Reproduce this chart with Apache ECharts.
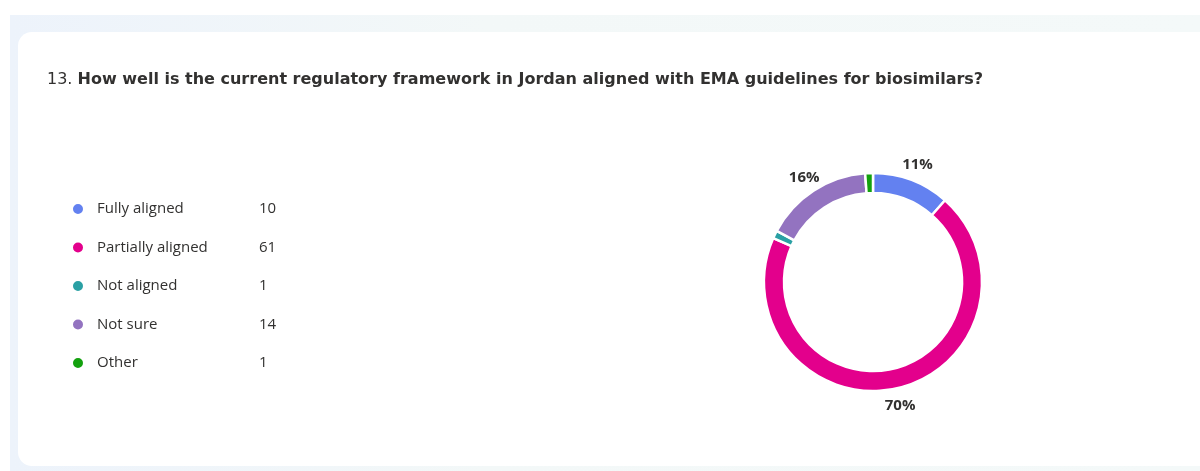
<!DOCTYPE html>
<html>
<head>
<meta charset="utf-8">
<script src="https://cdn.jsdelivr.net/npm/echarts@6/dist/echarts.min.js"></script>
<style>
  html, body { margin: 0; padding: 0; background: #ffffff; width: 1200px; height: 471px; overflow: hidden; }
  #frame { position: absolute; left: 10px; top: 15px; width: 1190px; height: 456px;
           background: linear-gradient(90deg, #edf3fb 0%, #f3f8f8 40%, #f4f9f9 100%); }
  #card { position: absolute; left: 18px; top: 32px; width: 1200px; height: 434px;
          background: #ffffff; border-radius: 14px; }
  #chart { position: absolute; left: 0; top: 0; width: 1200px; height: 471px; }
</style>
</head>
<body>
<div id="frame"></div>
<div id="card"></div>
<div id="chart"></div>
<script>
// Survey question 13: responses and their counts
const questionNumber = '13.';
const questionText = 'How well is the current regulatory framework in Jordan aligned with EMA guidelines for biosimilars?';
const categories = ['Fully aligned', 'Partially aligned', 'Not aligned', 'Not sure', 'Other'];
const counts = [10, 61, 1, 14, 1];
const colors = ['#6381f0', '#e3008c', '#2aa0a4', '#9373c0', '#13a10e'];

const FONT = '"Open Sans", "Noto Sans", sans-serif';
const TITLE_FONT = '"DejaVu Sans", "Open Sans", sans-serif';
const data = categories.map((name, i) => ({ name, value: counts[i], itemStyle: { color: colors[i] } }));
const countByName = {};
categories.forEach((c, i) => { countByName[c] = counts[i]; });

const chart = echarts.init(document.getElementById('chart'));
chart.setOption({
  animation: false,
  title: {
    left: 47, top: 72, padding: 0,
    text: '{num|' + questionNumber + ' }{q|' + questionText + '}',
    textStyle: {
      rich: {
        num: { fontFamily: TITLE_FONT, fontSize: 16, color: '#323130', fontWeight: 'normal' },
        q: { fontFamily: TITLE_FONT, fontSize: 16, color: '#323130', fontWeight: 'bold' }
      }
    }
  },
  legend: {
    orient: 'vertical',
    left: 71, top: 199, padding: 0,
    icon: 'circle',
    itemWidth: 12, itemHeight: 12,
    itemGap: 18.5,
    selectedMode: false,
    data: categories,
    formatter: name => '{n|' + name + '}{v|' + countByName[name] + '}',
    textStyle: {
      fontFamily: FONT, fontSize: 15, color: '#323130', lineHeight: 20,
      rich: {
        n: { fontFamily: FONT, fontSize: 15, color: '#323130', width: 162, padding: [0, 0, 0, 8] },
        v: { fontFamily: FONT, fontSize: 15, color: '#323130' }
      }
    }
  },
  series: [
    {
      type: 'pie',
      center: [873, 282],
      radius: [89, 109],
      startAngle: 90,
      clockwise: true,
      avoidLabelOverlap: false,
      itemStyle: { borderColor: '#ffffff', borderWidth: 2.5 },
      label: { show: false },
      labelLine: { show: false },
      emphasis: { disabled: true },
      data: data
    },
    {
      // invisible ring used only to place the percentage labels outside the donut
      type: 'pie',
      center: [873, 283],
      radius: [113, 133],
      startAngle: 90,
      clockwise: true,
      silent: true,
      itemStyle: { color: 'rgba(0,0,0,0)' },
      label: {
        show: true,
        position: 'inside',
        fontFamily: FONT, fontSize: 15, fontWeight: 'bold', color: '#323130',
        formatter: p => p.percent < 5 ? '' : Math.round(p.percent) + '%'
      },
      labelLine: { show: false },
      emphasis: { disabled: true },
      data: data.map(d => ({ name: d.name, value: d.value }))
    }
  ]
});
</script>
</body>
</html>
